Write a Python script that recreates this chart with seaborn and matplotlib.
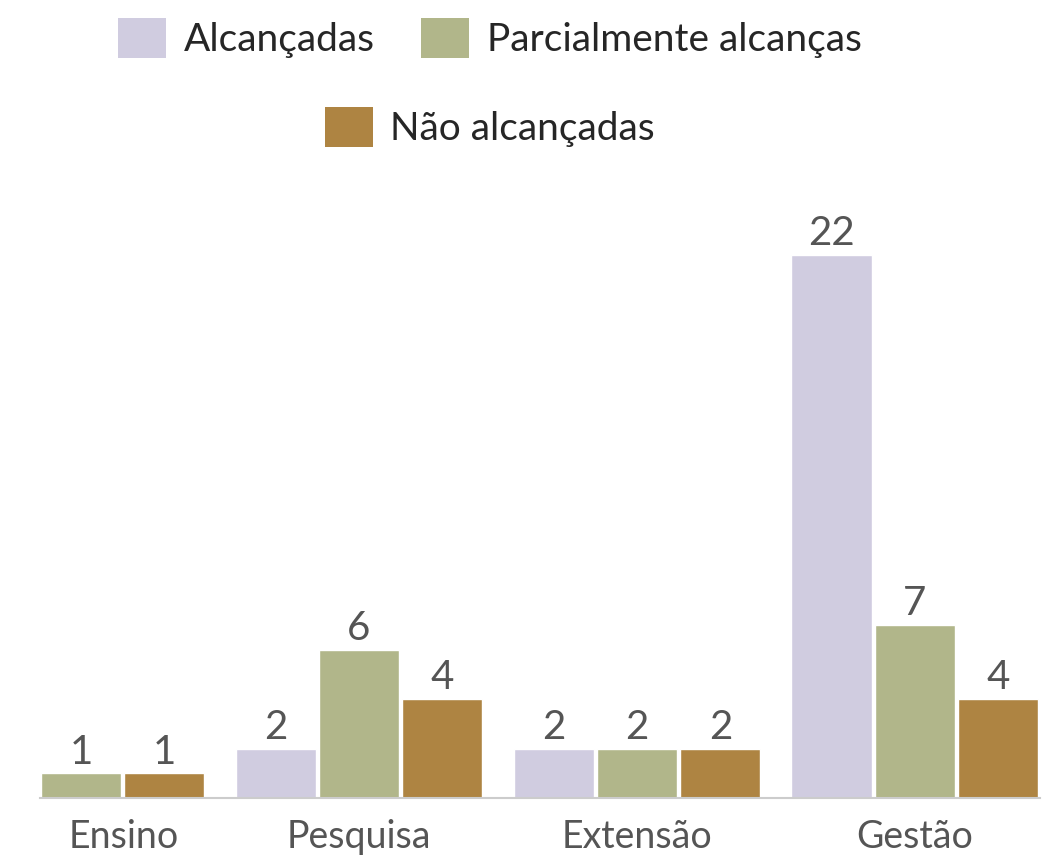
import matplotlib
matplotlib.use("Agg")
import matplotlib.pyplot as plt
import matplotlib.transforms as mtransforms
from matplotlib.patches import Patch
import pandas as pd
import seaborn as sns

# Metas por eixo e situação
categories = ["Ensino", "Pesquisa", "Extensão", "Gestão"]
series = ["Alcançadas", "Parcialmente alcanças", "Não alcançadas"]
alcancadas = [0, 2, 2, 22]
parcialmente = [1, 6, 2, 7]
nao_alcancadas = [1, 4, 2, 4]
colors = ["#D0CCE0", "#B1B68A", "#AE8442"]

sns.set_style("white")
plt.rcParams["font.family"] = ["Lato", "DejaVu Sans"]

df = pd.DataFrame({
    "Eixo": categories * 3,
    "Situação": [s for s in series for _ in categories],
    "Metas": alcancadas + parcialmente + nao_alcancadas,
})

W, H = 1050, 858
fig = plt.figure(figsize=(W / 100, H / 100), dpi=100)
ax = fig.add_axes([40 / W, 1 - 798 / H, 1000 / W, (798 - 255) / H])

sns.barplot(data=df, x="Eixo", y="Metas", hue="Situação", order=categories,
            hue_order=series, palette=colors, saturation=1, width=0.9, gap=0.04,
            legend=False, ax=ax)

ax.set_xlim(-0.1475, 3.45)
ax.set_ylim(0, 22)
ax.set_xlabel("")
ax.set_ylabel("")
ax.set_yticks([])
for side in ["left", "right", "top"]:
    ax.spines[side].set_visible(False)
ax.spines["bottom"].set_color("#CCCCCC")
ax.spines["bottom"].set_linewidth(1.5)

ax.tick_params(axis="x", length=0, pad=15, labelsize=27, labelcolor="#555555")

# Shift the first category label right so it stays inside the plot area
first = ax.get_xticklabels()[0]
first.set_transform(first.get_transform()
                    + mtransforms.ScaledTranslation(0.43, 0, fig.dpi_scale_trans))

for container in ax.containers:
    labels = [f"{int(b.get_height())}" if b.get_height() > 0 else "" for b in container]
    ax.bar_label(container, labels=labels, padding=2, fontsize=29, color="#555555")

handles = [Patch(facecolor=c, edgecolor="none") for c in colors]
common = dict(frameon=False, fontsize=28, handlelength=1.23, handleheight=1.2,
              handletextpad=0.45, columnspacing=1.2, borderpad=0, loc="center")
fig.legend(handles[:2], series[:2], ncol=2,
           bbox_to_anchor=(490 / W, 1 - 38 / H), **common)
fig.legend(handles[2:], series[2:], ncol=1,
           bbox_to_anchor=(490 / W, 1 - 127 / H), **common)

fig.savefig("out.png", dpi=100)
